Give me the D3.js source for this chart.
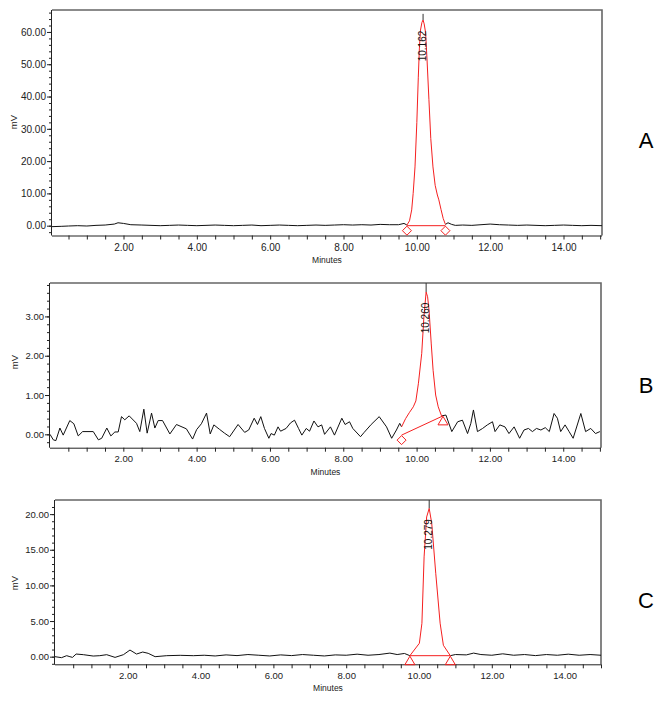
<!DOCTYPE html>
<html><head><meta charset="utf-8">
<script src="https://cdn.jsdelivr.net/npm/d3@7/dist/d3.min.js"></script>
<style>
body{margin:0;background:#fff}
svg{display:block}
text{font-family:"Liberation Sans",Arial,sans-serif}
</style>
</head><body><svg id="chart" width="664" height="704"></svg>
<script>
// ---------------- DATA ----------------
const xMajorTicks = [2, 4, 6, 8, 10, 12, 14];
const yTicksA = [0, 10, 20, 30, 40, 50, 60];
const yTicksB = [0, 1, 2, 3];
const yTicksC = [0, 5, 10, 15, 20];
const panelLetters = ["A", "B", "C"];
const peakLabels = ["10.162", "10.260", "10.279"];
const peakRT = [10.17, 10.26, 10.28];
const signalMax = [65.6, 4.2, 23.0];

// Panel A signal (minutes, mV)
const timeA = [0.05,0.3,0.5,0.75,1.0,1.25,1.5,1.75,1.85,2.0,2.2,2.5,2.75,3.0,3.25,3.5,3.75,4.0,4.25,4.5,4.75,5.0,5.25,5.5,5.75,6.0,6.25,6.5,6.75,7.0,7.25,7.5,7.75,8.0,8.25,8.5,8.75,9.0,9.25,9.5,9.65,
  9.73,9.80,9.86,9.90,9.95,10.00,10.04,10.07,10.10,10.14,10.17,10.20,10.24,10.28,10.33,10.38,10.44,10.50,10.56,10.60,10.66,10.72,10.78,
  10.85,10.95,11.05,11.25,11.5,11.75,12.0,12.25,12.5,12.75,13.0,13.25,13.5,13.75,14.0,14.25,14.5,14.75,15.05];
const mvA = [-0.3,-0.2,-0.1,0.0,-0.1,0.1,0.2,0.5,0.9,0.7,0.3,0.2,0.1,0.0,0.1,0.2,0.1,0.0,0.1,0.2,0.1,0.0,0.1,0.2,0.0,0.1,0.2,0.1,0.0,0.1,0.2,0.1,0.2,0.3,0.2,0.3,0.2,0.4,0.3,0.3,0.7,
  0.2,1.5,4.9,10,18.2,32,46,55,60.6,63,63.7,62.5,59.7,51,39,27,18.2,12.5,9.5,8,5,2.2,0.4,
  0.9,0.4,0.1,0.2,0.1,0.3,0.5,0.3,0.2,0.1,0.2,0.1,0.0,0.1,0.2,0.1,0.0,0.1,0.0];
const peakTimeA = [9.73,9.80,9.86,9.90,9.95,10.00,10.04,10.07,10.10,10.14,10.17,10.20,10.24,10.28,10.33,10.38,10.44,10.50,10.56,10.60,10.66,10.72,10.78];
const peakMvA = [0.2,1.5,4.9,10,18.2,32,46,55,60.6,63,63.7,62.5,59.7,51,39,27,18.2,12.5,9.5,8,5,2.2,0.4];
const baseTimeA = [9.73, 10.78];
const baseMvA = [0.0, 0.0];

// Panel B signal
const timeB = [0,0.09,0.16,0.27,0.36,0.54,0.65,0.77,0.89,1.18,1.32,1.41,1.55,1.66,1.77,1.86,1.95,2.04,2.16,2.36,2.45,2.56,2.65,2.77,2.86,2.95,3.07,3.27,3.45,3.72,3.89,4.0,4.13,4.27,4.37,4.47,4.62,4.76,4.90,5.13,5.31,5.42,5.57,5.66,5.75,5.85,5.97,6.03,6.12,6.22,6.29,6.44,6.56,6.67,6.78,6.87,6.99,7.08,7.20,7.31,7.41,7.49,7.65,7.76,7.96,8.05,8.17,8.26,8.47,8.57,8.76,8.98,9.18,9.32,9.45,9.54,
  9.59,9.70,9.80,9.91,9.98,10.05,10.14,10.20,10.26,10.30,10.34,10.40,10.45,10.52,10.59,10.68,
  10.80,10.96,11.12,11.25,11.39,11.48,11.55,11.66,11.80,11.93,12.07,12.14,12.27,12.41,12.52,12.66,12.81,12.93,13.05,13.16,13.27,13.39,13.51,13.62,13.75,13.84,13.93,14.05,14.16,14.27,14.48,14.61,14.75,14.88,15.0];
const mvB = [0.0,-0.14,-0.16,0.16,-0.02,0.35,0.27,-0.04,0.07,0.07,-0.14,-0.1,0.16,-0.04,0.06,0.06,0.45,0.37,0.47,0.28,0.07,0.64,0.03,0.54,0.16,0.35,0.35,0.01,0.25,0.14,-0.12,0.12,0.27,0.54,0.01,0.24,0.13,0.03,-0.06,0.25,0.05,0.11,0.41,0.25,0.45,0.15,-0.1,0.02,-0.02,0.19,0.08,0.15,0.29,0.36,0.15,-0.02,0.15,0.08,0.34,0.19,0.24,0.0,0.19,-0.02,0.41,0.25,0.32,0.15,-0.06,0.05,0.25,0.45,0.19,-0.1,0.11,0.28,
  0.19,0.40,0.55,0.70,0.85,1.3,2.06,3.0,3.62,3.5,3.15,2.3,1.63,1.0,0.70,0.47,
  0.49,0.07,0.32,0.36,0.02,0.28,0.62,0.07,0.15,0.24,0.32,0.07,0.24,0.19,0.02,0.19,-0.1,0.11,0.15,0.07,0.15,0.11,0.17,0.07,0.53,0.41,0.07,0.24,0.07,-0.1,0.53,0.07,0.15,0.02,0.07];
const peakTimeB = [9.59,9.70,9.80,9.91,9.98,10.05,10.14,10.20,10.26,10.30,10.34,10.40,10.45,10.52,10.59,10.68];
const peakMvB = [0.19,0.40,0.55,0.70,0.85,1.3,2.06,3.0,3.62,3.5,3.15,2.3,1.63,1.0,0.70,0.47];
const baseTimeB = [9.59, 10.72];
const baseMvB = [-0.02, 0.47];

// Panel C signal
const timeC = [0,0.18,0.32,0.41,0.48,0.58,0.78,1.05,1.23,1.42,1.65,1.88,2.06,2.24,2.41,2.56,2.75,3.07,3.44,3.8,4.1,4.4,4.7,5.0,5.3,5.6,5.9,6.2,6.5,6.8,7.1,7.4,7.7,8.0,8.3,8.6,8.9,9.2,9.4,9.6,
  9.75,10.01,10.08,10.14,10.21,10.28,10.35,10.46,10.58,10.67,10.86,
  11.0,11.3,11.5,11.7,12.0,12.3,12.6,12.9,13.2,13.5,13.8,14.1,14.4,14.7,15.0];
const mvC = [0,-0.14,0.14,0,-0.1,0.37,0.28,0.09,0.14,0.28,-0.1,0.28,0.93,0.37,0.65,0.47,0,0.14,0.19,0.14,0.2,0.1,0.25,0.15,0.3,0.2,0.1,0.25,0.15,0.3,0.2,0.1,0.25,0.2,0.35,0.2,0.3,0.5,0.3,0.45,
  0.14,1.88,4.68,14.0,19.6,20.8,18.7,11.7,4.7,1.6,0.14,
  0.3,0.25,0.5,0.3,0.2,0.4,0.2,0.3,0.15,0.3,0.2,0.35,0.2,0.3,0.2];
const peakTimeC = [9.75,10.01,10.08,10.14,10.21,10.28,10.35,10.46,10.58,10.67,10.86];
const peakMvC = [0.14,1.88,4.68,14.0,19.6,20.8,18.7,11.7,4.7,1.6,0.14];
const baseTimeC = [9.75, 10.86];
const baseMvC = [0.14, 0.14];

// ---------------- LAYOUT ----------------
const panels = [
  {left:52, right:602, top:10, bottom:235.5, xDomain:[0.05,15.05], yDomain:[-3.04,66.8], yTicks:yTicksA, yMinorStep:2, fs:10,
   time:timeA, mv:mvA, pt:peakTimeA, pm:peakMvA, bt:baseTimeA, bm:baseMvA, markers:["diamond","diamond"], letterY:140, mvY:122},
  {left:50, right:601, top:283, bottom:447.7, xDomain:[0,15.03], yDomain:[-0.34,3.85], yTicks:yTicksB, yMinorStep:0.2, fs:9.5,
   time:timeB, mv:mvB, pt:peakTimeB, pm:peakMvB, bt:baseTimeB, bm:baseMvB, markers:["diamond","triangle"], letterY:385, mvY:362},
  {left:55, right:601, top:500, bottom:664.3, xDomain:[0,15], yDomain:[-1.07,21.98], yTicks:yTicksC, yMinorStep:1, fs:9.5,
   time:timeC, mv:mvC, pt:peakTimeC, pm:peakMvC, bt:baseTimeC, bm:baseMvC, markers:["triangle","triangle"], letterY:600, mvY:583}
];

const svg = d3.select("#chart");
const fmt = d3.format(".2f");
const RED = "#f52020";

panels.forEach((p, i) => {
  const g = svg.append("g");
  const x = d3.scaleLinear().domain(p.xDomain).range([p.left, p.right]);
  const y = d3.scaleLinear().domain(p.yDomain).range([p.bottom, p.top]);

  const clipId = "clip" + i;
  svg.append("clipPath").attr("id", clipId).append("rect")
    .attr("x", p.left).attr("y", p.top).attr("width", p.right - p.left).attr("height", p.bottom - p.top);

  // frame: top + right in gray
  g.append("path")
    .attr("d", `M${p.left},${p.top}H${p.right}V${p.bottom}`)
    .attr("fill", "none").attr("stroke", "#666").attr("stroke-width", 1.6);

  // x axis
  const minorX = d3.range(0.5, p.xDomain[1] + 1e-6, 0.5);
  const xAxis = d3.axisBottom(x).tickValues(minorX).tickSize(4).tickPadding(4)
    .tickFormat(d => xMajorTicks.some(m => Math.abs(m - d) < 1e-6) ? fmt(d) : "");
  const gx = g.append("g").attr("transform", `translate(0,${p.bottom})`).call(xAxis);
  gx.select(".domain").attr("d", `M${p.left},0.5H${p.right}`).attr("stroke", "#222");
  gx.selectAll("line").attr("stroke", "#222");
  gx.selectAll("text").attr("font-size", p.fs).attr("fill", "#222")
    .attr("font-family", '"Liberation Sans",Arial,sans-serif');

  // y axis minor
  const yMinor = d3.range(Math.ceil(p.yDomain[0] / p.yMinorStep) * p.yMinorStep, p.yDomain[1], p.yMinorStep);
  const gym = g.append("g").attr("transform", `translate(${p.left},0)`)
    .call(d3.axisLeft(y).tickValues(yMinor).tickSize(3).tickFormat(""));
  gym.select(".domain").remove();
  gym.selectAll("line").attr("stroke", "#222");
  // y axis major
  const gy = g.append("g").attr("transform", `translate(${p.left},0)`)
    .call(d3.axisLeft(y).tickValues(p.yTicks).tickSize(5).tickPadding(1).tickFormat(fmt));
  gy.select(".domain").attr("d", `M-0.5,${p.top}V${p.bottom}`).attr("stroke", "#222");
  gy.selectAll("line").attr("stroke", "#222");
  gy.selectAll("text").attr("font-size", p.fs).attr("fill", "#222")
    .attr("font-family", '"Liberation Sans",Arial,sans-serif');

  // axis titles
  g.append("text").attr("x", (p.left + p.right) / 2).attr("y", p.bottom + 27)
    .attr("text-anchor", "middle").attr("font-size", 8.5).attr("fill", "#222").text("Minutes");
  g.append("text").attr("transform", `translate(${i === 0 ? 17 : 18},${p.mvY}) rotate(-90)`)
    .attr("text-anchor", "middle").attr("font-size", 9.5).attr("fill", "#222").text("mV");

  const plot = g.append("g").attr("clip-path", `url(#${clipId})`);

  // signal (black), interrupted under the red integrated peak
  const t0 = p.pt[0], t1 = p.pt[p.pt.length - 1];
  const sig = d3.zip(p.time, p.mv);
  const line = d3.line().x(d => x(d[0])).y(d => y(d[1]));
  const sigLine = d3.line().defined(d => d[0] <= t0 || d[0] >= t1).x(d => x(d[0])).y(d => y(d[1]));
  plot.append("path").datum(sig).attr("d", sigLine)
    .attr("fill", "none").attr("stroke", "#111").attr("stroke-width", 1).attr("stroke-linejoin", "round");

  // apex line (signal top)
  const apexIdx = d3.maxIndex(p.pm);
  plot.append("line")
    .attr("x1", x(peakRT[i])).attr("x2", x(peakRT[i]))
    .attr("y1", y(p.pm[apexIdx])).attr("y2", y(signalMax[i]))
    .attr("stroke", "#333").attr("stroke-width", 1);

  // red integrated peak
  plot.append("path").datum(d3.zip(p.pt, p.pm)).attr("d", line)
    .attr("fill", "none").attr("stroke", RED).attr("stroke-width", 1);
  // baseline
  plot.append("path").datum(d3.zip(p.bt, p.bm)).attr("d", line)
    .attr("fill", "none").attr("stroke", RED).attr("stroke-width", 1);

  // markers
  p.markers.forEach((m, k) => {
    const cx = x(p.bt[k]), cy = y(p.bm[k]) + 5;
    let d;
    if (m === "diamond") d = `M${cx},${cy - 4.5}L${cx + 4.5},${cy}L${cx},${cy + 4.5}L${cx - 4.5},${cy}Z`;
    else d = `M${cx},${cy - 4.5}L${cx + 5},${cy + 4}L${cx - 5},${cy + 4}Z`;
    g.append("path").attr("d", d).attr("fill", "none").attr("stroke", RED).attr("stroke-width", 1);
  });

  // peak label
  const apexY = y(p.pm[apexIdx]);
  g.append("text")
    .attr("transform", `translate(${x(peakRT[i]) + 3},${apexY + 26}) rotate(-90)`)
    .attr("text-anchor", "middle").attr("font-size", 10).attr("fill", "#111")
    .text(peakLabels[i]);

  // panel letter
  g.append("text").attr("x", 646).attr("y", p.letterY).attr("text-anchor", "middle")
    .attr("dominant-baseline", "central").attr("font-size", 22).attr("fill", "#000")
    .text(panelLetters[i]);
});
</script>
</body></html>
